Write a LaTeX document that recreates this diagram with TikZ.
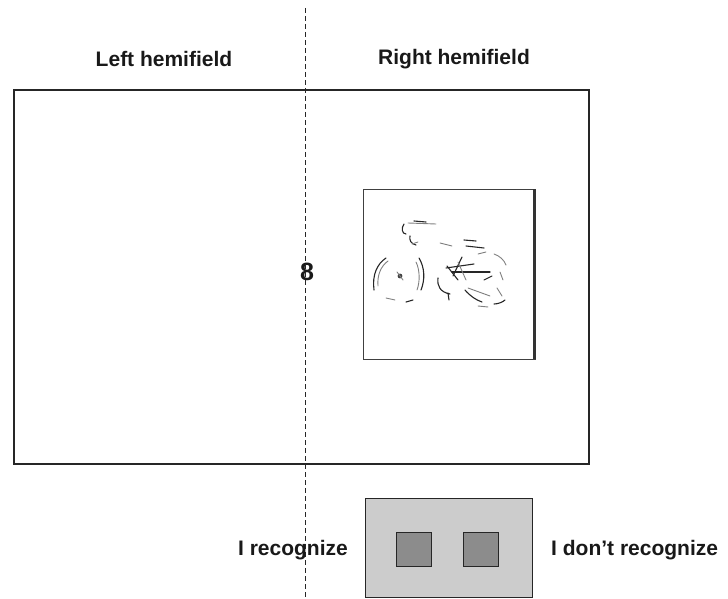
\documentclass[tikz,border=0pt]{standalone}
\usepackage{fontspec}
\setmainfont{Liberation Sans}
\begin{document}
\begin{tikzpicture}[x=1pt,y=-1pt,
  lbl/.style={font=\fontsize{21}{25}\selectfont\bfseries, text=black!90, inner sep=0pt},
  frame/.style={draw=black!85, line width=1.1pt},
  sketch/.style={draw=black!85, line width=1.1pt, line cap=round, line join=round},
  faint/.style={draw=black!50, line width=0.9pt, line cap=round},
  midline/.style={draw=black!85, line width=0.9pt, dash pattern=on 5pt off 3pt}]
\useasboundingbox (0,0) rectangle (728,599);

% visual field and the stimulus panel
\draw[frame] (14,90) rectangle (589,464);
\node[lbl] (lefthf) at (164,59) {Left hemifield};
\node[lbl] (righthf) at (454,59) {Right hemifield};

% picture card in the right hemifield
\draw[draw=black!75, line width=0.9pt] (363,189) rectangle (535,359);
\draw[draw=black!80, line width=2.6pt] (534.5,189) -- (534.5,359);

% sketchy bicycle: front wheel
\draw[sketch] (374,290) .. controls (372,275) and (377,264) .. (386,258);
\draw[faint] (378,286) .. controls (377,275) and (381,266) .. (388,261);
\fill[black!75] (400,276) circle (2.4);
\draw[faint] (397,272) -- (403,280);
\draw[sketch] (419,258) .. controls (425,268) and (425,280) .. (421,290);
\draw[faint] (416,262) .. controls (420,270) and (420,282) .. (417,290);
\draw[faint] (386,298) -- (395,300);
\draw[sketch] (406,302) -- (413,300);
% handlebar and stem
\draw[sketch] (404,224) .. controls (401,228) and (402,234) .. (406,234);
\draw[faint] (408,223) -- (436,224);
\draw[sketch] (414,221) -- (426,222);
\draw[sketch] (410,236) .. controls (409,240) and (411,244) .. (416,245);
\draw[faint] (412,244) -- (418,242);
% top tube fragments
\draw[faint] (440,243) -- (452,246);
\draw[sketch] (464,240) -- (476,241);
\draw[sketch] (466,246) -- (484,248);
\draw[faint] (478,254) -- (486,252);
% frame, chain ring and rear fork
\draw[sketch] (446,268) -- (474,264);
\draw[sketch] (453,276) -- (462,257);
\draw[sketch] (452,272) -- (490,272);
\draw[sketch] (447,266) -- (458,280);
\draw[faint] (458,262) -- (466,280);
\draw[sketch] (438,278) .. controls (437,286) and (440,292) .. (450,294);
\draw[sketch] (448,293) -- (449,300);
\draw[sketch] (465,290) .. controls (470,296) and (476,300) .. (482,302);
\draw[faint] (468,288) -- (490,296);
\draw[sketch] (484,280) -- (492,276);
% rear wheel
\draw[faint] (494,254) .. controls (500,256) and (504,260) .. (506,265);
\draw[faint] (497,288) -- (502,296);
\draw[sketch] (494,304) .. controls (498,304) and (503,302) .. (505,300);
\draw[faint] (478,306) -- (488,307);
\draw[faint] (500,272) -- (503,280);

% fixation mark
\node[lbl, font=\fontsize{25}{28}\selectfont\bfseries] (fix) at (307,272) {8};

% vertical meridian
\coordinate (mtop) at (305,8);
\coordinate (mbot) at (305,599);
\draw[midline] (mtop) -- (mbot);

% response box with two keys
\draw[draw=black!85, line width=1pt, fill=black!20] (365,498) rectangle (532,597);
\draw[draw=black!85, line width=1pt, fill=black!45] (396,532) rectangle (431,566);
\draw[draw=black!85, line width=1pt, fill=black!45] (463,532) rectangle (498,566);
\node[lbl, anchor=east] (yes) at (348,550) {I recognize};
\node[lbl, anchor=west] (no) at (551,550) {I don’t recognize};
\end{tikzpicture}
\end{document}
